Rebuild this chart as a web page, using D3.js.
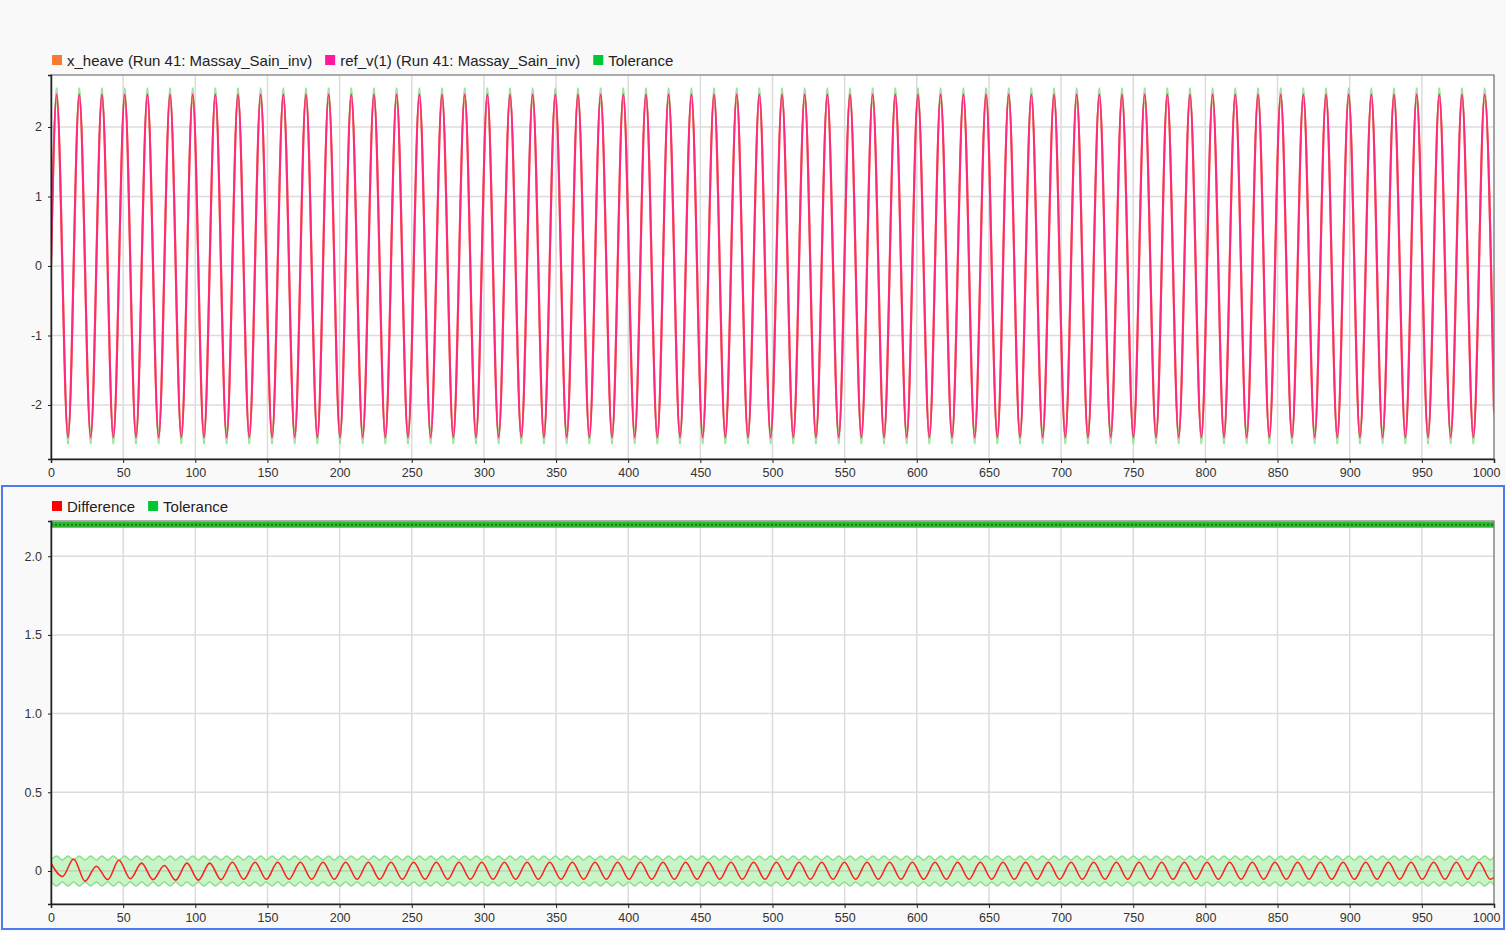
<!DOCTYPE html>
<html><head><meta charset="utf-8">
<script src="https://cdn.jsdelivr.net/npm/d3@7"></script>
<style>
html,body{margin:0;padding:0;background:#f9f9f9;}
svg{display:block;font-family:"Liberation Sans",Arial,sans-serif;}
</style></head><body>
<svg id="c" width="1506" height="932"></svg>
<script>
// ---------- DATA ----------
// times of zero crossings of ref / extrema of the difference signal
const tZero = [0,7.9,15.7,23.6,31.4,39.3,47.1,55.0,62.8,70.7,78.5,86.4,94.2,102.1,110.0,117.8,125.7,133.5,141.4,149.2,
157.1,164.9,172.8,180.6,188.5,196.3,204.2,212.1,219.9,227.8,235.6,243.5,251.3,259.2,267.0,274.9,282.7,290.6,298.5,306.3,
314.2,322.0,329.9,337.7,345.6,353.4,361.3,369.1,377.0,384.8,392.7,400.6,408.4,416.3,424.1,432.0,439.8,447.7,455.5,463.4,
471.2,479.1,486.9,494.8,502.7,510.5,518.4,526.2,534.1,541.9,549.8,557.6,565.5,573.3,581.2,589.0,596.9,604.8,612.6,620.5,
628.3,636.2,644.0,651.9,659.7,667.6,675.4,683.3,691.2,699.0,706.9,714.7,722.6,730.4,738.3,746.1,754.0,761.8,769.7,777.5,
785.4,793.3,801.1,809.0,816.8,824.7,832.5,840.4,848.2,856.1,863.9,871.8,879.6,887.5,895.4,903.2,911.1,918.9,926.8,934.6,
942.5,950.3,958.2,966.0,973.9,981.7,989.6,997.5];
// times of peaks / troughs of x_heave and ref_v(1)
const tExt = [3.9,11.8,19.6,27.5,35.3,43.2,51.1,58.9,66.8,74.6,82.5,90.3,98.2,106.0,113.9,121.7,129.6,137.4,145.3,153.2,
161.0,168.9,176.7,184.6,192.4,200.3,208.1,216.0,223.8,231.7,239.5,247.4,255.3,263.1,271.0,278.8,286.7,294.5,302.4,310.2,
318.1,325.9,333.8,341.6,349.5,357.4,365.2,373.1,380.9,388.8,396.6,404.5,412.3,420.2,428.0,435.9,443.8,451.6,459.5,467.3,
475.2,483.0,490.9,498.7,506.6,514.4,522.3,530.1,538.0,545.9,553.7,561.6,569.4,577.3,585.1,593.0,600.8,608.7,616.5,624.4,
632.3,640.1,648.0,655.8,663.7,671.5,679.4,687.2,695.1,702.9,710.8,718.6,726.5,734.4,742.2,750.1,757.9,765.8,773.6,781.5,
789.3,797.2,805.0,812.9,820.7,828.6,836.5,844.3,852.2,860.0,867.9,875.7,883.6,891.4,899.3,907.1,915.0,922.8,930.7,938.6,
946.4,954.3,962.1,970.0,977.8,985.7,993.5];
// ref_v(1) value at each extremum
const refExt = [2.47,-2.47,2.47,-2.47,2.47,-2.47,2.47,-2.47,2.47,-2.47,2.47,-2.47,2.47,-2.47,2.47,-2.47,2.47,-2.47,2.47,-2.47,
2.47,-2.47,2.47,-2.47,2.47,-2.47,2.47,-2.47,2.47,-2.47,2.47,-2.47,2.47,-2.47,2.47,-2.47,2.47,-2.47,2.47,-2.47,
2.47,-2.47,2.47,-2.47,2.47,-2.47,2.47,-2.47,2.47,-2.47,2.47,-2.47,2.47,-2.47,2.47,-2.47,2.47,-2.47,2.47,-2.47,
2.47,-2.47,2.47,-2.47,2.47,-2.47,2.47,-2.47,2.47,-2.47,2.47,-2.47,2.47,-2.47,2.47,-2.47,2.47,-2.47,2.47,-2.47,
2.47,-2.47,2.47,-2.47,2.47,-2.47,2.47,-2.47,2.47,-2.47,2.47,-2.47,2.47,-2.47,2.47,-2.47,2.47,-2.47,2.47,-2.47,
2.47,-2.47,2.47,-2.47,2.47,-2.47,2.47,-2.47,2.47,-2.47,2.47,-2.47,2.47,-2.47,2.47,-2.47,2.47,-2.47,2.47,-2.47,
2.47,-2.47,2.47,-2.47,2.47,-2.47,2.47];
// x_heave value at each extremum
const heaveExt = [2.44,-2.45,2.45,-2.45,2.45,-2.45,2.45,-2.45,2.45,-2.45,2.45,-2.45,2.45,-2.45,2.45,-2.45,2.45,-2.45,2.45,-2.45,
2.45,-2.45,2.45,-2.45,2.45,-2.45,2.45,-2.45,2.45,-2.45,2.45,-2.45,2.45,-2.45,2.45,-2.45,2.45,-2.45,2.45,-2.45,
2.45,-2.45,2.45,-2.45,2.45,-2.45,2.45,-2.45,2.45,-2.45,2.45,-2.45,2.45,-2.45,2.45,-2.45,2.45,-2.45,2.45,-2.45,
2.45,-2.45,2.45,-2.45,2.45,-2.45,2.45,-2.45,2.45,-2.45,2.45,-2.45,2.45,-2.45,2.45,-2.45,2.45,-2.45,2.45,-2.45,
2.45,-2.45,2.45,-2.45,2.45,-2.45,2.45,-2.45,2.45,-2.45,2.45,-2.45,2.45,-2.45,2.45,-2.45,2.45,-2.45,2.45,-2.45,
2.45,-2.45,2.45,-2.45,2.45,-2.45,2.45,-2.45,2.45,-2.45,2.45,-2.45,2.45,-2.45,2.45,-2.45,2.45,-2.45,2.45,-2.45,
2.45,-2.45,2.45,-2.45,2.45,-2.45,2.45];
// Difference value at each tZero time
const diffAtZero = [0.05,-0.035,0.076,-0.065,0.03,-0.055,0.068,-0.05,0.05,-0.055,0.035,-0.058,0.05,-0.058,0.05,-0.055,0.055,-0.053,0.055,-0.053,
0.055,-0.053,0.055,-0.053,0.055,-0.053,0.055,-0.053,0.055,-0.053,0.055,-0.053,0.055,-0.053,0.055,-0.053,0.055,-0.053,0.055,-0.053,
0.055,-0.053,0.055,-0.053,0.055,-0.053,0.055,-0.053,0.055,-0.053,0.055,-0.053,0.055,-0.053,0.055,-0.053,0.055,-0.053,0.055,-0.053,
0.055,-0.053,0.055,-0.053,0.055,-0.053,0.055,-0.053,0.055,-0.053,0.055,-0.053,0.055,-0.053,0.055,-0.053,0.055,-0.053,0.055,-0.053,
0.055,-0.053,0.055,-0.053,0.055,-0.053,0.055,-0.053,0.055,-0.053,0.055,-0.053,0.055,-0.053,0.055,-0.053,0.055,-0.053,0.055,-0.053,
0.055,-0.053,0.055,-0.053,0.055,-0.053,0.055,-0.053,0.055,-0.053,0.055,-0.053,0.055,-0.053,0.055,-0.053,0.055,-0.053,0.055,-0.053,
0.055,-0.053,0.055,-0.053,0.055,-0.053,0.055,-0.053];
const tEnd = 1000;
const refEnd = -2.1, heaveEnd = -2.08, diffEnd = -0.04;
const tolAtZero = 0.07;    // tolerance half-width where ref crosses zero
const tolAtPeak = 0.095;   // tolerance half-width at ref peaks
const tolAtEnd = 0.091;
const upperTolLine = 2.2;  // green tolerance line at top of lower plot

const xTicks = [0,50,100,150,200,250,300,350,400,450,500,550,600,650,700,750,800,850,900,950,1000];
const topYTicks = [-2,-1,0,1,2];
const botYTicks = [0,0.5,1,1.5,2];
const topLegend = [
  {label:"x_heave (Run 41: Massay_Sain_inv)", color:"#f77b30"},
  {label:"ref_v(1) (Run 41: Massay_Sain_inv)", color:"#ff1a9c"},
  {label:"Tolerance", color:"#00c832"}];
const botLegend = [
  {label:"Difference", color:"#ff0000"},
  {label:"Tolerance", color:"#00c832"}];

// ---------- DRAWING ----------
const svg = d3.select("#c");
const L = 51, R = 1494;
const x = d3.scaleLinear().domain([0,1000]).range([L,R]);
const yT = d3.scaleLinear().domain([-2.777,2.748]).range([459,75]);
const yB = d3.scaleLinear().domain([-0.21,2.224]).range([904,521]);

// lower panel blue frame
svg.append("rect").attr("x",2).attr("y",486).attr("width",1502).attr("height",443)
  .attr("fill","none").attr("stroke","#4a7cf0").attr("stroke-width",2);

function panel(y, ticksY, id){
  const [b,t] = y.range();
  const defs = svg.append("defs");
  defs.append("clipPath").attr("id",id).append("rect")
    .attr("x",L).attr("y",t).attr("width",R-L).attr("height",b-t);
  svg.append("rect").attr("x",L).attr("y",t).attr("width",R-L).attr("height",b-t).attr("fill","#fff");
  const g = svg.append("g");
  g.selectAll("line.gx").data(xTicks).join("line").attr("class","gx")
    .attr("x1",d=>x(d)).attr("x2",d=>x(d)).attr("y1",t).attr("y2",b)
    .attr("stroke","#dcdcdc").attr("stroke-width",1.5);
  g.selectAll("line.gy").data(ticksY).join("line").attr("class","gy")
    .attr("y1",d=>y(d)).attr("y2",d=>y(d)).attr("x1",L).attr("x2",R)
    .attr("stroke","#dcdcdc").attr("stroke-width",1.5);
  return g;
}
function frame(y, ticksY, fmt){
  const [b,t] = y.range();
  svg.append("rect").attr("x",L).attr("y",t).attr("width",R-L).attr("height",b-t)
    .attr("fill","none").attr("stroke","#777").attr("stroke-width",1.2);
  const ax = svg.append("g").attr("transform",`translate(0,${b})`)
    .call(d3.axisBottom(x).tickValues(xTicks).tickSize(4).tickPadding(5).tickFormat(d=>String(d)));
  const ay = svg.append("g").attr("transform",`translate(${L},0)`)
    .call(d3.axisLeft(y).tickValues(ticksY).tickSize(3).tickPadding(6).tickFormat(fmt));
  [ax,ay].forEach(a=>{
    a.select(".domain").attr("stroke","#222").attr("stroke-width",1.5);
    a.selectAll(".tick line").attr("stroke","#222");
    a.selectAll("text").attr("fill","#333").attr("font-size",12.5)
      .attr("font-family",'"Liberation Sans",Arial,sans-serif');
  });
  ax.selectAll(".tick").filter(d=>d===1000).select("text").attr("text-anchor","end").attr("x",6);
}
function legend(items, yy){
  let cx = 52;
  const g = svg.append("g");
  items.forEach(it=>{
    g.append("rect").attr("x",cx).attr("y",yy-5).attr("width",10).attr("height",10).attr("fill",it.color);
    const tx = g.append("text").attr("x",cx+15).attr("y",yy+5.5).attr("font-size",15).attr("fill","#222")
      .text(it.label);
    cx += 15 + tx.node().getComputedTextLength() + 13;
  });
}

// ----- top panel -----
panel(yT, topYTicks, "clipT");
const refPts = [[0,0]].concat(tExt.map((t,i)=>[t,refExt[i]]), [[tEnd,refEnd]]);
const heavePts = [[0,0]].concat(tExt.map((t,i)=>[t,heaveExt[i]]), [[tEnd,heaveEnd]]);
const topBand = [{t:0,lo:-tolAtZero,hi:tolAtZero}]
  .concat(tExt.map((t,i)=>({t, lo:refExt[i]-tolAtPeak, hi:refExt[i]+tolAtPeak})),
          [{t:tEnd, lo:refEnd-tolAtEnd, hi:refEnd+tolAtEnd}]);
const gT = svg.append("g").attr("clip-path","url(#clipT)");
const cur = d3.curveMonotoneX;
gT.append("path").datum(topBand)
  .attr("d",d3.area().x(d=>x(d.t)).y0(d=>yT(d.lo)).y1(d=>yT(d.hi)).curve(cur))
  .attr("fill","#8ee88e").attr("fill-opacity",0.5).attr("stroke","#8fdf8f").attr("stroke-width",1);
gT.append("path").datum(heavePts)
  .attr("d",d3.line().x(d=>x(d[0])).y(d=>yT(d[1])).curve(cur))
  .attr("fill","none").attr("stroke","#f77b30").attr("stroke-width",2.2);
gT.append("path").datum(refPts)
  .attr("d",d3.line().x(d=>x(d[0])).y(d=>yT(d[1])).curve(cur))
  .attr("fill","none").attr("stroke","#ff1a8c").attr("stroke-width",2).attr("stroke-opacity",0.85);
frame(yT, topYTicks, d=>String(d));
legend(topLegend, 60);

// ----- bottom panel -----
panel(yB, botYTicks, "clipB");
const gB = svg.append("g").attr("clip-path","url(#clipB)");
const botBand = tZero.map(t=>({t, h:tolAtZero}))
  .concat(tExt.map(t=>({t, h:tolAtPeak})), [{t:tEnd, h:tolAtEnd}])
  .sort((a,b)=>a.t-b.t);
gB.append("path").datum(botBand)
  .attr("d",d3.area().x(d=>x(d.t)).y0(d=>yB(-d.h)).y1(d=>yB(d.h)).curve(cur))
  .attr("fill","#c8f5c8");
[1,-1].forEach(s=>{
  gB.append("path").datum(botBand)
    .attr("d",d3.line().x(d=>x(d.t)).y(d=>yB(s*d.h)).curve(cur))
    .attr("fill","none").attr("stroke","#8ddf8d").attr("stroke-width",1.5);
});
// zero grid line over band
gB.append("line").attr("x1",L).attr("x2",R).attr("y1",yB(0)).attr("y2",yB(0))
  .attr("stroke","#b5ccb5").attr("stroke-width",1.2);
// top tolerance line
gB.append("line").attr("x1",L).attr("x2",R).attr("y1",yB(upperTolLine)).attr("y2",yB(upperTolLine))
  .attr("stroke","#33b833").attr("stroke-width",6);
gB.append("line").attr("x1",L).attr("x2",R).attr("y1",yB(upperTolLine)).attr("y2",yB(upperTolLine))
  .attr("stroke","#137a13").attr("stroke-width",2).attr("stroke-dasharray","2,2");
const diffPts = tZero.map((t,i)=>[t,diffAtZero[i]]).concat([[tEnd,diffEnd]]);
gB.append("path").datum(diffPts)
  .attr("d",d3.line().x(d=>x(d[0])).y(d=>yB(d[1])).curve(cur))
  .attr("fill","none").attr("stroke","#ff2020").attr("stroke-width",1.6);
frame(yB, botYTicks, d=> d===0 ? "0" : d3.format(".1f")(d));
legend(botLegend, 506);
</script>
</body></html>
